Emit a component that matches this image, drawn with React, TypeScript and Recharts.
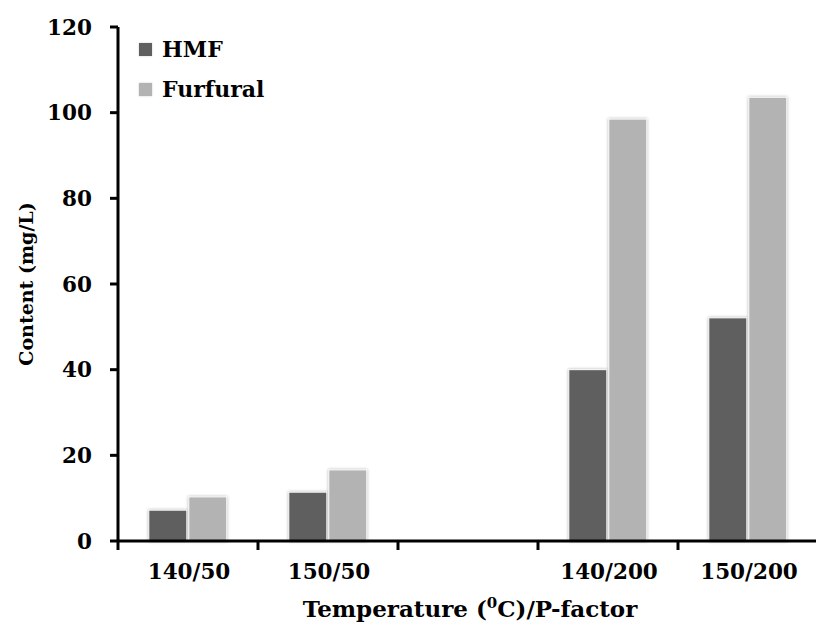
import * as React from 'react';
import { BarChart, Bar, XAxis, YAxis, Legend, Label } from 'recharts';

const categories = ['140/50', '150/50', '', '140/200', '150/200'];
const seriesNames = ['HMF', 'Furfural'];
const hmf = [7.2, 11.4, 0, 40, 52.1];
const furfural = [10.3, 16.6, 0, 98.5, 103.6];
const yTicks = [0, 20, 40, 60, 80, 100, 120];

const data = categories.map((name, i) => ({
  name,
  HMF: categories[i] ? hmf[i] : null,
  Furfural: categories[i] ? furfural[i] : null,
}));

const FONT = '"DejaVu Serif", serif';
const CHART_W = 822;
const PLOT_LEFT = 118;
const HALF_BAND = (CHART_W - 4 - PLOT_LEFT) / categories.length / 2;

function ShadowBar(props: any) {
  const { x, y, width, height, fill } = props;
  if (!height || height <= 0) return null;
  return (
    <rect x={x} y={y} width={width} height={height} fill={fill}
      stroke="#fff" strokeWidth={1}
      style={{ filter: 'drop-shadow(0 0 1.5px rgba(0,0,0,0.3))' }} />
  );
}

function XTick(props: any) {
  const { x, y, payload } = props;
  const axisY = y - 18;
  const bx = x - HALF_BAND;
  return (
    <g>
      <line x1={bx} y1={axisY} x2={bx} y2={axisY + 9} stroke="#000" strokeWidth={3} />
      <text x={x + 1} y={axisY + 38} textAnchor="middle" fontFamily={FONT}
        fontWeight="bold" fontSize={21.5} fill="#000">
        {payload.value}
      </text>
    </g>
  );
}

function XTitle() {
  return (
    <text x={470} y={617} textAnchor="middle" fontFamily={FONT} fontWeight="bold"
      fontSize={23} fill="#000">
      Temperature (<tspan fontSize={15} dy={-9}>0</tspan>
      <tspan dy={9}>C)/P-factor</tspan>
    </text>
  );
}

function YTitle() {
  return (
    <text x={0} y={0} transform="translate(33,284) rotate(-90)" textAnchor="middle"
      fontFamily={FONT} fontWeight="bold" fontSize={19} fill="#000">
      Content (mg/L)
    </text>
  );
}

function LegendBox(props: any) {
  const { payload } = props;
  const items = seriesNames
    .map((n) => payload.find((p: any) => p.value === n))
    .filter(Boolean);
  return (
    <div style={{ fontFamily: FONT, fontWeight: 'bold', fontSize: 22 }}>
      {items.map((p: any) => (
        <div key={p.value} style={{ display: 'flex', alignItems: 'center', height: 40 }}>
          <span style={{ width: 13, height: 13, background: p.color, marginRight: 10,
            boxShadow: '0 0 2px rgba(0,0,0,0.2)' }} />
          <span>{p.value}</span>
        </div>
      ))}
    </div>
  );
}

export default function App() {
  return (
    <div style={{ position: 'absolute', left: 0, top: 0, width: 816, height: 624,
      overflow: 'hidden', background: '#fff' }}>
      <BarChart width={CHART_W} height={624} data={data}
        margin={{ top: 27, right: 4, bottom: 0, left: 38 }}
        barCategoryGap="22%" barGap={2}>
        <XAxis dataKey="name" height={83} tickLine={false} tickSize={8} tickMargin={10}
          axisLine={{ stroke: '#000', strokeWidth: 3 }} tick={<XTick />} interval={0}>
          <Label content={<XTitle />} />
        </XAxis>
        <YAxis width={80} domain={[0, 120]} ticks={yTicks} interval={0}
          tickSize={8} tickMargin={18}
          axisLine={{ stroke: '#000', strokeWidth: 3 }}
          tickLine={{ stroke: '#000', strokeWidth: 3 }}
          tick={{ fill: '#000', fontFamily: FONT, fontWeight: 'bold', fontSize: 21.5 }}>
          <Label content={<YTitle />} />
        </YAxis>
        <Legend layout="vertical" align="center" verticalAlign="middle" content={<LegendBox />}
          wrapperStyle={{ left: 139, top: 29, width: 200 }} />
        <Bar dataKey="HMF" fill="#5f5f5f" shape={<ShadowBar />} isAnimationActive={false} />
        <Bar dataKey="Furfural" fill="#b3b3b3" shape={<ShadowBar />} isAnimationActive={false} />
      </BarChart>
    </div>
  );
}
